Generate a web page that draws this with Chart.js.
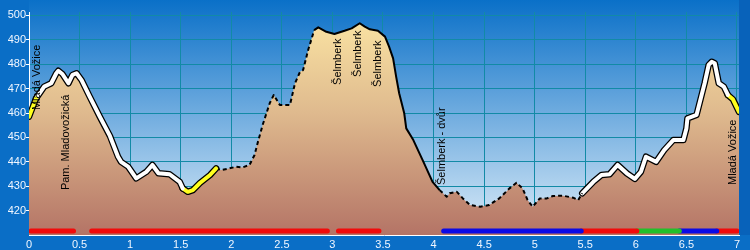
<!DOCTYPE html>
<html>
<head>
<meta charset="utf-8">
<script src="https://cdn.jsdelivr.net/npm/chart.js@4/dist/chart.umd.min.js"></script>
<style>
html, body { margin: 0; padding: 0; background: #0a70c8; }
</style>
</head>
<body>
<canvas id="profileChart" width="750" height="250"></canvas>
<script>
// profile: distance in km, elevation in m
var km = [0, 0.07, 0.15, 0.22, 0.27, 0.29, 0.33, 0.39, 0.43, 0.47, 0.52, 0.60, 0.70, 0.80, 0.88, 0.91, 0.98,
    1.06, 1.16, 1.22, 1.28, 1.39, 1.49, 1.52, 1.57, 1.62, 1.69, 1.79, 1.85, 1.90, 1.98, 2.05, 2.11, 2.18,
    2.23, 2.26, 2.31, 2.38, 2.42, 2.48, 2.58, 2.63, 2.68, 2.71, 2.76, 2.82, 2.86, 2.94, 3.02, 3.12, 3.19,
    3.27, 3.32, 3.37, 3.45, 3.52, 3.56, 3.60, 3.63, 3.66, 3.71, 3.73, 3.80, 3.90, 3.99, 4.06, 4.13, 4.16,
    4.23, 4.29, 4.36, 4.46, 4.55, 4.65, 4.75, 4.82, 4.88, 4.93, 4.98, 5.05, 5.12, 5.18, 5.28, 5.38, 5.43,
    5.47, 5.58, 5.66, 5.74, 5.82, 5.91, 5.99, 6.05, 6.10, 6.20, 6.28, 6.37, 6.47, 6.50, 6.51, 6.60, 6.68,
    6.72, 6.75, 6.78, 6.82, 6.87, 6.91, 6.96, 7.02]
var elev = [458.5, 466.0, 470.8, 472.2, 476.3, 477.3, 476.0, 472.2, 475.6, 476.3, 473.5, 466.7, 458.5, 450.6,
    442.1, 440.0, 438.0, 433.2, 435.9, 438.7, 435.3, 434.9, 431.8, 429.1, 427.7, 428.4, 431.3, 434.6, 437.3,
    436.6, 437.3, 438.0, 437.7, 438.7, 442.8, 447.6, 455.1, 464.0, 467.4, 463.3, 463.3, 472.2, 476.9, 477.6,
    485.8, 494.0, 495.1, 493.3, 492.4, 493.7, 494.7, 496.8, 495.4, 494.3, 493.7, 491.3, 487.2, 482.4, 474.9,
    468.1, 459.9, 453.7, 448.9, 440.0, 431.8, 428.4, 425.7, 427.1, 427.7, 425.0, 422.3, 421.6, 422.3, 425.0,
    429.1, 431.4, 429.1, 424.3, 421.6, 425.0, 425.0, 426.0, 426.1, 425.3, 424.3, 427.1, 431.8, 434.6, 434.9,
    438.7, 435.3, 433.0, 435.9, 442.1, 440.0, 444.8, 448.9, 448.9, 453.7, 457.8, 459.2, 472.2, 479.7, 481.0,
    480.4, 472.2, 470.8, 467.4, 465.6, 460.5]

// surface type changes along the profile
var surfaceStart = [0, 0.07, 1.52, 1.85, 2.82, 4.06, 5.47, 6.91]
var surfaceKind = ['yellow', 'white', 'yellow', 'dashed', 'solid', 'dashed', 'white', 'yellow']

// marked route stripe
var routeStart = [0.02, 0.62, 3.06, 4.10, 5.46, 6.01, 6.43, 6.80]
var routeEnd = [0.44, 2.95, 3.46, 5.46, 6.01, 6.43, 6.80, 7.00]
var routeMark = ['red', 'red', 'red', 'blue', 'red', 'green', 'blue', 'red']

// waypoints
var placeName = ['Mladá Vožice', 'Pam. Mladovožická', 'Šelmberk', 'Šelmberk', 'Šelmberk', 'Šelmberk - dvůr', 'Mladá Vožice']
var placeKm = [0.075, 0.37, 3.05, 3.25, 3.45, 4.08, 6.96]
var placeElev = [461.2, 428.4, 471.5, 474.8, 470.7, 430.5, 430.5]

var xTicks = [0, 0.5, 1, 1.5, 2, 2.5, 3, 3.5, 4, 4.5, 5, 5.5, 6, 6.5, 7]
var yTicks = [420, 430, 440, 450, 460, 470, 480, 490, 500]

var BAR_Y = 411.6
var markColor = {red: '#f20a0a', blue: '#0a0ae6', green: '#22c02a'}

function pointsBetween(a, b){
    var result = []
    for(var i = 0; i < km.length; i++){
        if(km[i] >= a - 0.001 && km[i] <= b + 0.001){
            result.push({x: km[i], y: elev[i]})
        }
    }
    return result
}

function fillGradient(c){
    var area = c.chart.chartArea
    if(!area) return '#d8b48c'
    var g = c.chart.ctx.createLinearGradient(0, area.top, 0, area.bottom)
    g.addColorStop(0, '#fce6a4')
    g.addColorStop(0.45, '#dfba8e')
    g.addColorStop(1, '#b47466')
    return g
}

var datasets = []
datasets.push({
    data: pointsBetween(0, 99),
    fill: 'start',
    backgroundColor: fillGradient,
    borderWidth: 0,
    pointRadius: 0,
    order: 30
})

for(var i = 0; i < surfaceStart.length; i++){
    var end = i + 1 < surfaceStart.length ? surfaceStart[i + 1] : 99
    var pts = pointsBetween(surfaceStart[i], end)
    var kind = surfaceKind[i]
    if(kind == 'white' || kind == 'yellow'){
        datasets.push({
            data: pts, borderColor: '#000000', borderWidth: 6.5,
            borderJoinStyle: 'round', borderCapStyle: 'round',
            pointRadius: 0, fill: false, order: 20
        })
        datasets.push({
            data: pts, borderColor: kind == 'white' ? '#ffffff' : '#ffff1e', borderWidth: 4,
            borderJoinStyle: 'round', borderCapStyle: 'round',
            pointRadius: 0, fill: false, order: 10
        })
    } else {
        datasets.push({
            data: pts, borderColor: '#000000', borderWidth: 2,
            borderDash: kind == 'dashed' ? [4, 3] : [],
            borderJoinStyle: 'round',
            pointRadius: 0, fill: false, order: 10
        })
    }
}

for(var j = 0; j < routeStart.length; j++){
    datasets.push({
        data: [{x: routeStart[j], y: BAR_Y}, {x: routeEnd[j], y: BAR_Y}],
        borderColor: markColor[routeMark[j]],
        borderWidth: 5,
        borderCapStyle: 'round',
        pointRadius: 0, fill: false, order: 0
    })
}

var backdrop = {
    id: 'backdrop',
    beforeDraw: function(chart){
        var c = chart.ctx, a = chart.chartArea
        c.save()
        c.fillStyle = '#0a6ec6'
        c.fillRect(0, 0, chart.width, chart.height)
        var g = c.createLinearGradient(0, 0, 0, a.bottom)
        g.addColorStop(0, '#0a70c8')
        g.addColorStop(1, '#dcecf8')
        c.fillStyle = g
        c.fillRect(a.left, 0, a.right - a.left, a.bottom)
        c.fillStyle = '#0862ba'
        c.fillRect(a.right, 0, chart.width - a.right, a.bottom)
        c.restore()
    }
}

var placeLabels = {
    id: 'placeLabels',
    afterDatasetsDraw: function(chart){
        var c = chart.ctx
        var xs = chart.scales.x, ys = chart.scales.y
        c.save()
        c.font = '11px "Liberation Sans", Arial, sans-serif'
        c.fillStyle = '#000000'
        c.textAlign = 'left'
        c.textBaseline = 'middle'
        for(var k = 0; k < placeName.length; k++){
            c.save()
            c.translate(xs.getPixelForValue(placeKm[k]), ys.getPixelForValue(placeElev[k]))
            c.rotate(-Math.PI / 2)
            c.fillText(placeName[k], 0, 0)
            c.restore()
        }
        c.restore()
    }
}

var profileChart = new Chart(document.getElementById('profileChart').getContext('2d'), {
    type: 'line',
    data: {datasets: datasets},
    plugins: [backdrop, placeLabels],
    options: {
        responsive: false,
        devicePixelRatio: 1,
        animation: false,
        layout: {padding: {top: 12, right: 11, left: 0, bottom: 0}},
        elements: {line: {tension: 0}},
        plugins: {legend: {display: false}, tooltip: {enabled: false}},
        scales: {
            x: {
                type: 'linear', min: 0, max: 7.02,
                afterBuildTicks: function(s){ s.ticks = xTicks.map(function(v){ return {value: v} }) },
                afterFit: function(s){ s.height = 15 },
                grid: {color: '#128aa6', lineWidth: 1, drawTicks: false},
                border: {color: '#ffffff', width: 1},
                ticks: {
                    color: '#f0f6ff', padding: 3, autoSkip: false, maxRotation: 0,
                    font: {family: '"Liberation Sans", Arial, sans-serif', size: 11},
                    callback: function(v){ return String(v) }
                }
            },
            y: {
                type: 'linear', min: 410, max: 501.4,
                afterBuildTicks: function(s){ s.ticks = yTicks.map(function(v){ return {value: v} }) },
                afterFit: function(s){ s.width = 29 },
                grid: {color: '#128aa6', lineWidth: 1, tickColor: '#ffffff', tickLength: 3},
                border: {color: '#ffffff', width: 1},
                ticks: {
                    color: '#f0f6ff', padding: 0,
                    font: {family: '"Liberation Sans", Arial, sans-serif', size: 11},
                    callback: function(v){ return String(v) }
                }
            }
        }
    }
});
</script>
</body>
</html>
